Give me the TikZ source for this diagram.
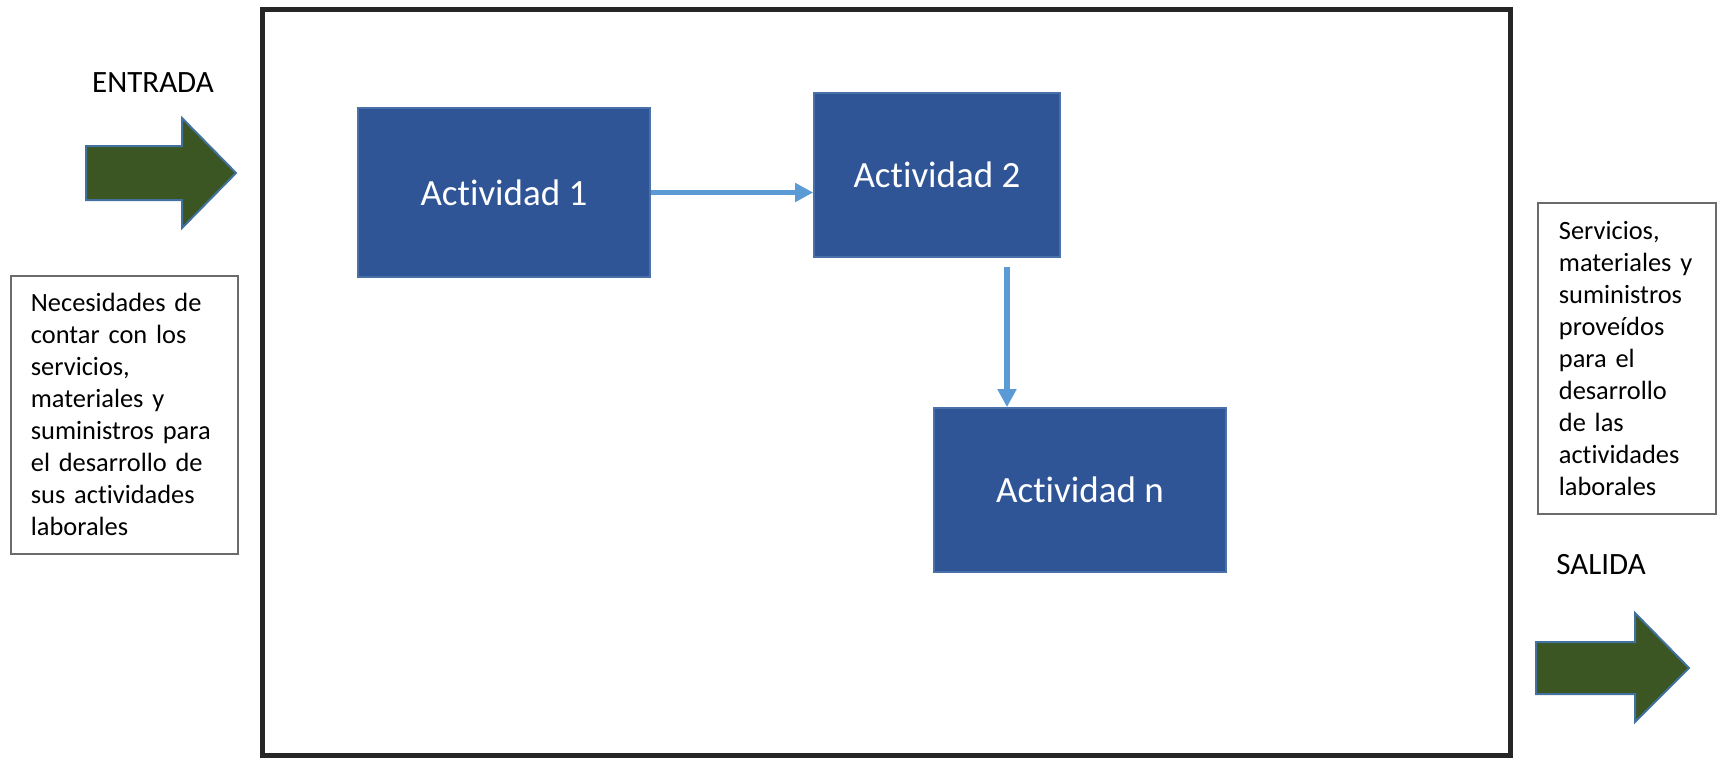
\documentclass[tikz,border=0pt]{standalone}
\usepackage{fontspec}
\setmainfont[Ligatures=NoCommon]{Carlito}
\usetikzlibrary{arrows.meta}
\definecolor{actblue}{HTML}{2F5597}
\definecolor{actedge}{HTML}{4A70AA}
\definecolor{flowblue}{HTML}{5B9BD5}
\definecolor{arrgreen}{HTML}{3B5623}
\definecolor{arredge}{HTML}{41719C}
\definecolor{framegray}{HTML}{262626}
\definecolor{boxgray}{HTML}{6B6B6B}
\newcommand{\tI}{t\kern0pt i}
\tikzset{
  framebox/.style={draw=framegray, line width=2.6pt},
  actbox/.style={draw=actedge, line width=0.8pt, fill=actblue, text=white, font=\fontsize{18.5}{22}\selectfont},
  flowline/.style={draw=flowblue, line width=2.6pt, -{Triangle[length=9pt,width=9pt]}},
  bigarrow/.style={draw=arredge, line width=1pt, fill=arrgreen},
  tbox/.style={draw=boxgray, line width=0.9pt, align=left, anchor=north west, inner ysep=0pt, font=\fontsize{13.2}{16}\selectfont},
  lbl/.style={anchor=base, font=\fontsize{15.5}{18}\selectfont}
}
\begin{document}
\begin{tikzpicture}[x=0.5pt,y=-0.5pt]
\useasboundingbox (0,0) rectangle (1721,762);
% outer frame
\draw[framebox] (262.5,9.5) rectangle (1510.5,755.5);
% labels
\node[lbl] (entrada) at (153,92) {ENTRADA};
\node[lbl] (salida) at (1601,574) {SALIDA};
% green arrows
\draw[bigarrow] (86,146) -- (182,146) -- (182,118) -- (236,173) -- (182,228) -- (182,200) -- (86,200) -- cycle;
\draw[bigarrow] (1536,642) -- (1635,642) -- (1635,613) -- (1689,668) -- (1635,722) -- (1635,694) -- (1536,694) -- cycle;
% text boxes
\node[tbox, inner xsep=10pt, text width=93.5pt, minimum height=139pt] (need) at (10,275)
  {Necesidades~de\\contar~con~los\\servicios,\\materiales~y\\suministros~para\\el~desarrollo~de\\sus~ac\tI vidades\\laborales};
\node[tbox, inner xsep=10.5pt, text width=68pt, minimum height=155.5pt] (out) at (1537,202)
  {Servicios,\\materiales~y\\suministros\\proveídos\\para~el\\desarrollo\\de~las\\ac\tI vidades\\laborales};
% activities
\node[actbox, minimum width=146pt, minimum height=84.5pt] (act1) at (504,192.5) {Ac\tI vidad 1};
\node[actbox, minimum width=123pt, minimum height=82pt] (act2) at (937,175) {Ac\tI vidad 2};
\node[actbox, minimum width=146pt, minimum height=82pt] (actn) at (1080,490) {Ac\tI vidad n};
% connectors
\draw[flowline] (act1.east) -- (act1.east -| act2.west);
\coordinate (vs) at (1007,267);
\draw[flowline] (vs) -- (vs |- actn.north);
\end{tikzpicture}
\end{document}
